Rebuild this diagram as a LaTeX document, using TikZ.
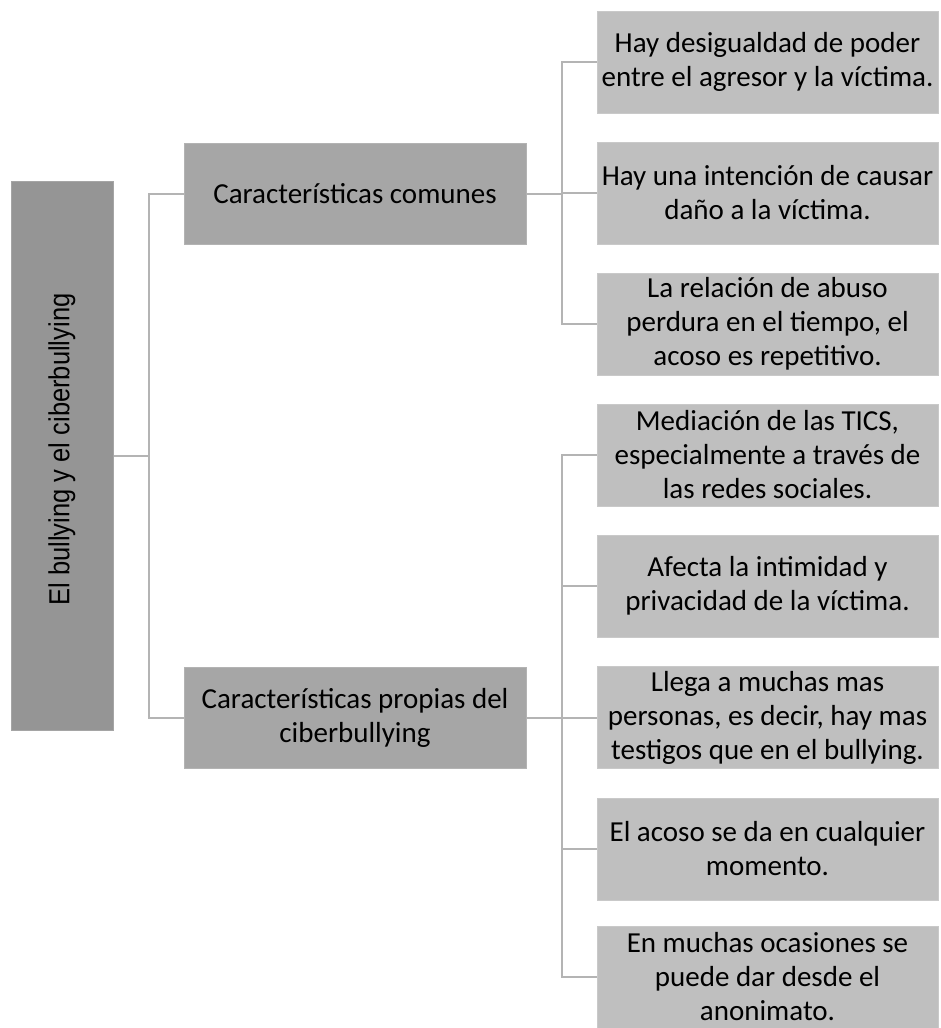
\documentclass[tikz,border=0pt]{standalone}
\usepackage{fontspec}
\setmainfont{Carlito}
\newfontfamily\rootfont{Liberation Sans}
\usetikzlibrary{positioning, calc}

\definecolor{rootgray}{HTML}{959595}
\definecolor{midgray}{HTML}{A6A6A6}
\definecolor{leafgray}{HTML}{BFBFBF}
\definecolor{linegray}{HTML}{B4B4B4}

\tikzset{
  rootbox/.style={fill=rootgray, draw=rootgray!85!white, line width=1pt,
    minimum width=102pt, minimum height=549pt, inner sep=0pt},
  midbox/.style={fill=midgray, draw=midgray!85!white, line width=1pt,
    minimum width=342pt, minimum height=101pt, inner sep=0pt, align=center,
    font=\fontsize{29}{34}\selectfont},
  leafbox/.style={fill=leafgray, draw=leafgray!85!white, line width=1pt,
    minimum width=341pt, minimum height=102pt, inner sep=0pt, align=center,
    font=\fontsize{29}{34}\selectfont},
  link/.style={draw=linegray, line width=2pt}
}

\begin{document}
\begin{tikzpicture}[x=1pt, y=-1pt]
  \useasboundingbox (0,0) rectangle (940,1028);

  % root
  \node[rootbox] (root) at (62,455.5) {};
  \node[rotate=90, inner sep=0pt, font=\rootfont\fontsize{29}{33}\selectfont] (roottxt)
    at ($(root.center)+(0,-6)$) {\scalebox{0.88}[1]{El bullying y el ciberbullying}};

  % second level
  \node[midbox] (comunes) at (355,193.5) {Características comunes};
  \node[midbox] (propias) at (355,718) {Características propias del\\ciberbullying};

  % leaves
  \node[leafbox] (c1) at (767.5,62) {Hay desigualdad de poder\\entre el agresor y la víctima.};
  \node[leafbox] (c2) at (767.5,193) {Hay una intención de causar\\daño a la víctima.};
  \node[leafbox] (c3) at (767.5,324) {La relación de abuso\\perdura en el tiempo, el\\acoso es repetitivo.};
  \node[leafbox] (p1) at (767.5,455) {Mediación de las TICS,\\especialmente a través de\\las redes sociales.};
  \node[leafbox] (p2) at (767.5,586) {Afecta la intimidad y\\privacidad de la víctima.};
  \node[leafbox] (p3) at (767.5,717.5) {Llega a muchas mas\\personas, es decir, hay mas\\testigos que en el bullying.};
  \node[leafbox] (p4) at (767.5,849) {El acoso se da en cualquier\\momento.};
  \node[leafbox] (p5) at (767.5,977) {En muchas ocasiones se\\puede dar desde el\\anonimato.};

  % connectors
  \draw[link] (root.east) -- ++(35,0) |- (comunes.west);
  \draw[link] (root.east) -- ++(35,0) |- (propias.west);
  \foreach \leaf in {c1,c2,c3}
    \draw[link] (comunes.east) -- ++(35,0) |- (\leaf.west);
  \foreach \leaf in {p1,p2,p3,p4,p5}
    \draw[link] (propias.east) -- ++(35,0) |- (\leaf.west);
\end{tikzpicture}
\end{document}
